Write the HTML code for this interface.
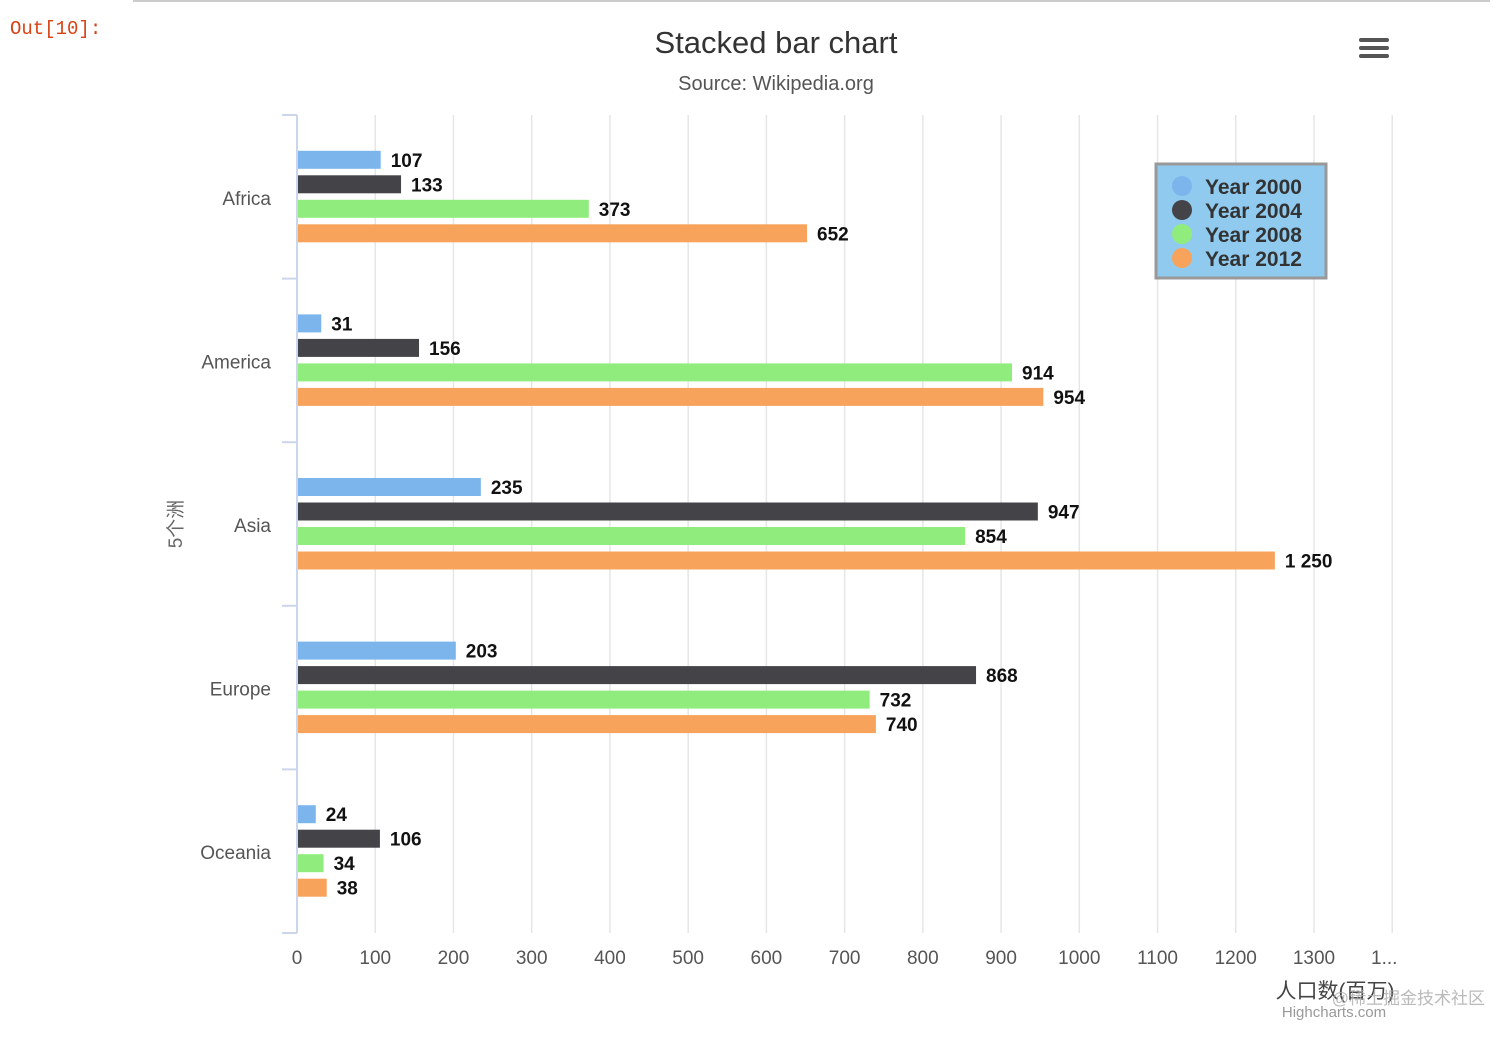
<!DOCTYPE html>
<html><head><meta charset="utf-8"><style>
body{margin:0;background:#fff;width:1512px;height:1035px;overflow:hidden;font-family:"Liberation Sans","Noto Sans CJK SC",sans-serif;}
</style></head><body>
<svg id="chart" width="1512" height="1035" xmlns="http://www.w3.org/2000/svg">
<line x1="133" y1="1" x2="1490" y2="1" stroke="#ccc" stroke-width="2"/>
<text x="10" y="34" font-family="Liberation Mono, monospace" font-size="19" fill="#d84315">Out[10]:</text>
<text x="776" y="53" text-anchor="middle" font-size="31" fill="#333">Stacked bar chart</text>
<text x="776" y="90" text-anchor="middle" font-size="20" fill="#555">Source: Wikipedia.org</text>
<g fill="#555">
<rect x="1359" y="38" width="30" height="4" rx="2"/><rect x="1359" y="46" width="30" height="4" rx="2"/><rect x="1359" y="54" width="30" height="4" rx="2"/></g>
<g id="grid"></g><g id="bars"></g><g id="axes"></g>
<text transform="translate(182,524) rotate(-90)" text-anchor="middle" font-size="19" fill="#666">5个洲</text>
<text x="1335" y="998" text-anchor="middle" font-size="21" fill="#444">人口数(百万)</text>
<text x="1334" y="1017" text-anchor="middle" font-size="15" fill="#999">Highcharts.com</text>
<text x="1485" y="1004" text-anchor="end" font-size="17" fill="#aaa" opacity="0.8">@稀土掘金技术社区</text>
<g>
<rect x="1156" y="164" width="170" height="114" fill="#90cbef" stroke="#999" stroke-width="3"/>
<g id="legend-items"></g></g>
</svg>
<script>
const categories=["Africa","America","Asia","Europe","Oceania"];
const seriesNames=["Year 2000","Year 2004","Year 2008","Year 2012"];
const y2000=[107,31,235,203,24];
const y2004=[133,156,947,868,106];
const y2008=[373,914,854,732,34];
const y2012=[652,954,1250,740,38];
const xTicks=[0,100,200,300,400,500,600,700,800,900,1000,1100,1200,1300,1400];
const colors=["#7cb5ec","#434348","#90ed7d","#f7a35c"];
const series=[y2000,y2004,y2008,y2012];
const NS="http://www.w3.org/2000/svg";
const x0=297,pxPer=0.7823,plotTop=115,plotBottom=933;
const xs=v=>x0+v*pxPer;
const band=(plotBottom-plotTop)/categories.length;
const yc=i=>plotTop+band*(i+0.5);
function mk(tag,attrs,parent,text){const e=document.createElementNS(NS,tag);for(const k in attrs)e.setAttribute(k,attrs[k]);if(text!==undefined)e.textContent=text;document.getElementById(parent).appendChild(e);return e;}
xTicks.forEach((t,i)=>{
 if(t>0){const g=mk('line',{x1:xs(t),x2:xs(t),y1:plotTop,y2:plotBottom,stroke:'#e6e6e6','stroke-width':1.5},'grid');
 
 }
 const lbl=t===1400?'1...':String(t);
 const tx=mk('text',{x:t===1400?xs(t)-8:xs(t),y:964,'text-anchor':'middle','font-size':19,fill:'#555'},'axes',lbl);
 
 
});
const ax=mk('line',{x1:x0,x2:x0,y1:plotTop,y2:plotBottom,stroke:'#ccd6eb','stroke-width':2},'axes');


for(let i=0;i<=categories.length;i++){
 const tk=mk('line',{x1:282,x2:x0,y1:plotTop+band*i,y2:plotTop+band*i,stroke:'#ccd6eb','stroke-width':2},'axes');
 
 
}
const offs=[-37,-12.5,12,36.5];
categories.forEach((c,i)=>{
 const cl=mk('text',{x:271,y:yc(i)+8,'text-anchor':'end','font-size':19,fill:'#555'},'axes',c);
 
 
 series.forEach((s,j)=>{
  const v=s[i],y=yc(i)+offs[j];
  const r=mk('rect',{x:x0,y:y-9,width:xs(v)-x0,height:18,fill:colors[j]},'bars');
  
  
  const lab=v>=1000?String(v).replace(/(\d)(\d{3})$/,'$1 $2'):String(v);
  const t=mk('text',{x:xs(v)+10,y:y+7,'font-size':19,'font-weight':'bold',fill:'#111'},'bars',lab);
  
  
 });
});
seriesNames.forEach((n,j)=>{
 const y=186+j*24;
 const d=mk('circle',{cx:1182,cy:y,r:10,fill:colors[j]},'legend-items');
 
 
 const t=mk('text',{x:1205,y:y+8,'font-size':21,'font-weight':'bold',fill:'#333'},'legend-items',n);
 
 
});
</script>
</body></html>
